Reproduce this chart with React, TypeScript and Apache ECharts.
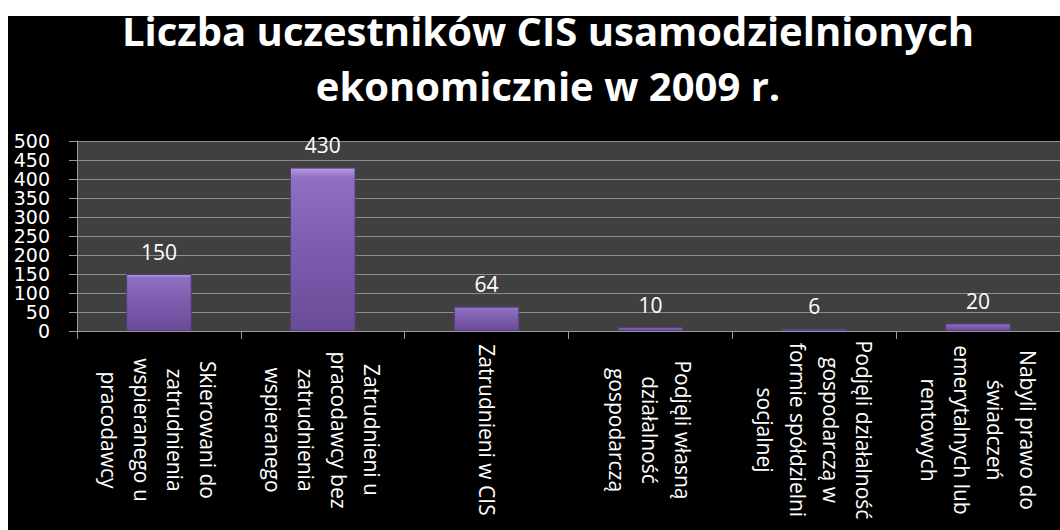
import React, { useEffect, useRef } from "react";
import * as echarts from "echarts";

const titleLines = ["Liczba uczestników CIS usamodzielnionych", "ekonomicznie w 2009 r."];
const categories = [
  "Skierowani do\nzatrudnienia\nwspieranego u\npracodawcy",
  "Zatrudnieni u\npracodawcy bez\nzatrudnienia\nwspieranego",
  "Zatrudnieni w CIS",
  "Podjęli własną\ndziałalność\ngospodarczą",
  "Podjęli działalność\ngospodarczą w\nformie spółdzielni\nsocjalnej",
  "Nabyli prawo do\nświadczeń\nemerytalnych lub\nrentowych",
];
const values = [150, 430, 64, 10, 6, 20];
const yMin = 0;
const yMax = 500;
const yStep = 50;

export default function App() {
  const ref = useRef<HTMLDivElement>(null);
  useEffect(() => {
    if (!ref.current) return;
    const chart = echarts.init(ref.current, undefined, { renderer: "svg" });
    const titleStyle = {
      color: "#ffffff",
      fontFamily: "Open Sans",
      fontWeight: "bold",
      fontSize: 40,
      lineHeight: 40,
    };
    chart.setOption({
      animation: false,
      backgroundColor: "transparent",
      title: [
        { text: titleLines[0], left: 548, top: 10, textAlign: "center", padding: 0, textStyle: titleStyle },
        { text: titleLines[1], left: 548, top: 65, textAlign: "center", padding: 0, textStyle: titleStyle },
      ],
      grid: {
        left: 77,
        top: 141,
        width: 1008,
        height: 190,
        show: true,
        backgroundColor: "#404040",
        borderWidth: 0,
      },
      xAxis: {
        type: "category",
        data: categories,
        axisLine: { show: true, lineStyle: { color: "#9a9a9a", width: 1 } },
        axisTick: { show: true, length: 8, lineStyle: { color: "#9a9a9a" } },
        axisLabel: {
          interval: 0,
          rotate: -90,
          align: "center",
          verticalAlign: "middle",
          margin: 99,
          color: "#ffffff",
          fontFamily: "Open Sans",
          fontSize: 21,
          lineHeight: 33,
        },
      },
      yAxis: {
        type: "value",
        min: yMin,
        max: yMax,
        interval: yStep,
        axisLine: { show: true, lineStyle: { color: "#9a9a9a", width: 1 } },
        axisTick: { show: true, length: 8, lineStyle: { color: "#9a9a9a" } },
        splitLine: { show: true, lineStyle: { color: "#8c8c8c", width: 1 } },
        axisLabel: {
          margin: 27,
          showMinLabel: true,
          showMaxLabel: true,
          hideOverlap: false,
          color: "#ffffff",
          fontFamily: "DejaVu Sans",
          fontSize: 19,
          lineHeight: 14,
        },
      },
      series: [
        {
          type: "bar",
          data: values,
          barWidth: "40%",
          itemStyle: {
            color: {
              type: "linear",
              x: 0,
              y: 0,
              x2: 0,
              y2: 1,
              colorStops: [
                { offset: 0, color: "#b79ae2" },
                { offset: 0.06, color: "#8f70c0" },
                { offset: 0.5, color: "#7c5cad" },
                { offset: 1, color: "#6a4b98" },
              ],
            },
            borderColor: "#553c7e",
            borderWidth: 1,
          },
          label: {
            show: true,
            position: "top",
            distance: 12,
            color: "#ffffff",
            fontFamily: "Open Sans",
            fontSize: 21,
          },
        },
      ],
    });
    return () => chart.dispose();
  }, []);
  return (
    <div style={{ position: "absolute", left: 0, top: 0, width: 1060, height: 530, background: "#ffffff" }}>
      <div style={{ position: "absolute", left: 8, top: 16, width: 1052, height: 514, background: "#000000" }} />
      <div ref={ref} style={{ position: "absolute", left: 0, top: 0, width: 1060, height: 530 }} />
    </div>
  );
}
